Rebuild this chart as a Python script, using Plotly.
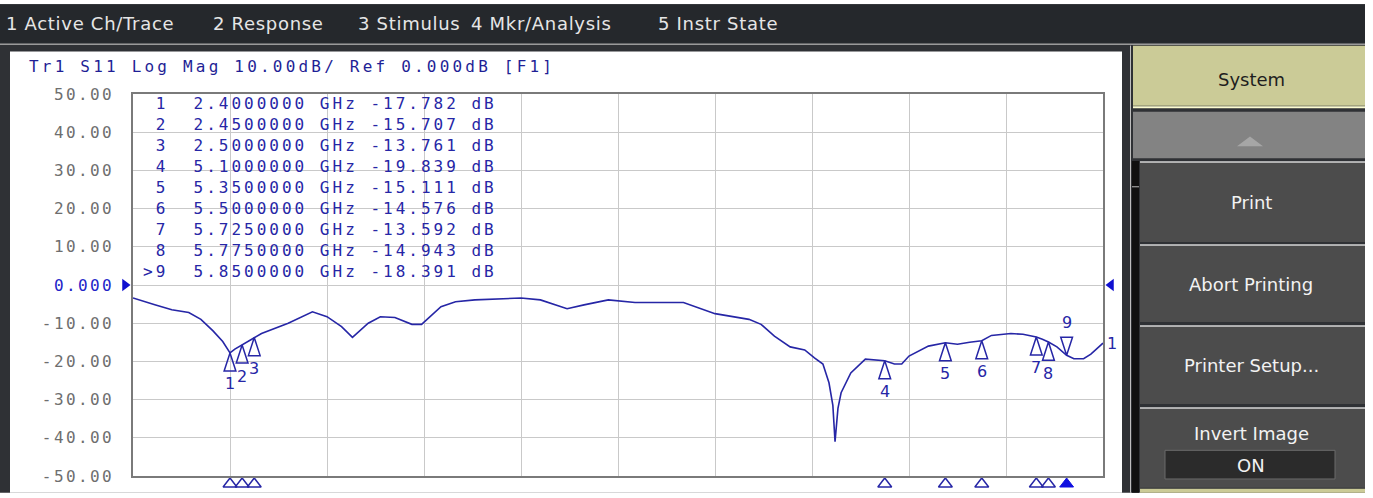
import plotly.graph_objects as go

# ---------------- data ----------------
trace_freq_ghz = [2.000, 2.050, 2.090, 2.160, 2.230, 2.280, 2.330, 2.370, 2.400, 2.420,
                  2.450, 2.500, 2.530, 2.640, 2.740, 2.800, 2.860, 2.905, 2.970, 3.020,
                  3.080, 3.150, 3.190, 3.270, 3.330, 3.410, 3.500, 3.600, 3.680, 3.790,
                  3.860, 3.960, 4.070, 4.270, 4.400, 4.540, 4.590, 4.645, 4.710, 4.770,
                  4.810, 4.845, 4.870, 4.886, 4.895, 4.907, 4.920, 4.960, 5.020, 5.100,
                  5.140, 5.170, 5.200, 5.280, 5.350, 5.400, 5.450, 5.500, 5.540, 5.620,
                  5.670, 5.725, 5.750, 5.775, 5.810, 5.850, 5.880, 5.920, 5.950, 5.980,
                  6.000]
trace_db = [-3.4, -4.3, -5.2, -6.5, -7.2, -9.0, -12.0, -14.8, -17.78, -16.8,
            -15.71, -13.76, -12.7, -10.0, -7.0, -8.3, -10.9, -13.7, -10.0, -8.3,
            -8.5, -10.3, -10.3, -5.7, -4.4, -3.9, -3.6, -3.4, -3.9, -6.2,
            -5.2, -3.9, -4.6, -4.6, -7.5, -9.0, -10.3, -13.4, -16.2, -17.0,
            -19.1, -20.7, -25.6, -31.5, -41.0, -32.3, -28.2, -23.0, -19.4, -19.84,
            -20.7, -20.7, -18.6, -16.0, -15.11, -15.5, -15.0, -14.58, -13.2, -12.7,
            -12.9, -13.59, -14.2, -14.94, -16.2, -18.39, -19.3, -19.3, -18.1, -16.5,
            -15.2]

marker_ids = ["1", "2", "3", "4", "5", "6", "7", "8", "9"]
marker_freq_ghz = [2.40, 2.45, 2.50, 5.10, 5.35, 5.50, 5.725, 5.775, 5.85]
marker_db = [-17.782, -15.707, -13.761, -19.839, -15.111, -14.576, -13.592, -14.943, -18.391]
active_marker = "9"

freq_start_ghz = 2.0
freq_stop_ghz = 6.0
freq_div_ghz = 0.4
y_tick_vals = [50, 40, 30, 20, 10, 0, -10, -20, -30, -40, -50]
y_tick_labels = ["50.00", "40.00", "30.00", "20.00", "10.00", "0.000",
                 "-10.00", "-20.00", "-30.00", "-40.00", "-50.00"]
ref_level_db = 0

title_text = "Tr1 S11 Log Mag 10.00dB/ Ref 0.000dB [F1]"
menu_labels = ["1 Active Ch/Trace", "2 Response", "3 Stimulus", "4 Mkr/Analysis", "5 Instr State"]
softkey_labels = ["System", "Print", "Abort Printing", "Printer Setup...", "Invert Image", "ON"]

# ---------------- layout constants ----------------
FIG_W, FIG_H = 1373, 498
L, R, T, B = 133, 1103, 94, 481
PW, PH = R - L, B - T

def PX(x):
    return (x - L) / PW

def PY(y):
    return (B - y) / PH

NAVY = "#2626a6"
TEXT_NAVY = "#1f1f96"
MONO = "DejaVu Sans Mono"
SANS = "DejaVu Sans"

def spaced(s, ls):
    s = s.replace(" ", "\u00a0")
    return f'<span style="letter-spacing:{ls}px">{s}</span>'

fig = go.Figure()

# trace
fig.add_trace(go.Scatter(
    x=trace_freq_ghz, y=trace_db, mode="lines",
    line=dict(color=NAVY, width=1.6), hoverinfo="skip", showlegend=False))

# markers on trace
norm_idx = [i for i, m in enumerate(marker_ids) if m != active_marker]
act_idx = [i for i, m in enumerate(marker_ids) if m == active_marker]
fig.add_trace(go.Scatter(
    x=[marker_freq_ghz[i] for i in norm_idx], y=[marker_db[i] for i in norm_idx],
    mode="markers", showlegend=False, hoverinfo="skip", cliponaxis=False,
    marker=dict(symbol="arrow-open", size=19, angle=0, color=NAVY, line=dict(color=NAVY, width=1.5))))
fig.add_trace(go.Scatter(
    x=[marker_freq_ghz[i] for i in act_idx], y=[marker_db[i] for i in act_idx],
    mode="markers", showlegend=False, hoverinfo="skip", cliponaxis=False,
    marker=dict(symbol="arrow-open", size=19, angle=180, color=NAVY, line=dict(color=NAVY, width=1.5))))

# bottom marker position indicators
fig.add_trace(go.Scatter(
    x=[marker_freq_ghz[i] for i in norm_idx], y=[y_tick_vals[-1]] * len(norm_idx),
    mode="markers", showlegend=False, hoverinfo="skip", cliponaxis=False,
    marker=dict(symbol="triangle-up-open", size=12, angle=0, standoff=8,
                color=NAVY, line=dict(color=NAVY, width=1.5))))
fig.add_trace(go.Scatter(
    x=[marker_freq_ghz[i] for i in act_idx], y=[y_tick_vals[-1]] * len(act_idx),
    mode="markers", showlegend=False, hoverinfo="skip", cliponaxis=False,
    marker=dict(symbol="triangle-up", size=12, angle=0, standoff=8,
                color="#1010e0", line=dict(color="#1010e0", width=1))))

# reference level indicators
fig.add_trace(go.Scatter(
    x=[freq_start_ghz], y=[ref_level_db], mode="markers", showlegend=False, hoverinfo="skip",
    cliponaxis=False,
    marker=dict(symbol="triangle-up", size=11, angle=90, standoff=8, color="#1010d0",
                line=dict(width=0))))
fig.add_trace(go.Scatter(
    x=[freq_stop_ghz], y=[ref_level_db], mode="markers", showlegend=False, hoverinfo="skip",
    cliponaxis=False,
    marker=dict(symbol="triangle-up", size=11, angle=-90, standoff=8, color="#1010d0",
                line=dict(width=0))))

annotations = []
# marker numbers
for i, m in enumerate(marker_ids):
    up = (m == active_marker)
    annotations.append(dict(
        x=marker_freq_ghz[i], y=marker_db[i], xref="x", yref="y", text=m, showarrow=False,
        yshift=33 if up else -31, font=dict(family=SANS, size=16, color=NAVY)))
# trace number at end
annotations.append(dict(
    x=trace_freq_ghz[-1], y=trace_db[-1], xref="x", yref="y", text="1", showarrow=False,
    xanchor="left", xshift=2, font=dict(family=SANS, size=16, color=NAVY)))

# marker table
for i, m in enumerate(marker_ids):
    lab = (">" + m) if m == active_marker else (" " + m)
    line = f"{lab}  {marker_freq_ghz[i]:.7f} GHz {marker_db[i]:.3f} dB"
    annotations.append(dict(
        x=PX(141), y=PY(103.5 + i * 21.3), xref="paper", yref="paper", xanchor="left",
        yanchor="middle", showarrow=False, text=spaced(line, 3.0),
        font=dict(family=MONO, size=16, color=NAVY)))

# title
annotations.append(dict(
    x=PX(27), y=PY(66), xref="paper", yref="paper", xanchor="left", yanchor="middle",
    showarrow=False, text=spaced(title_text, 3.2), font=dict(family=MONO, size=16, color=TEXT_NAVY)))

# menu bar
menu_x = [4, 211, 356, 469, 656]
for lab, mx in zip(menu_labels, menu_x):
    annotations.append(dict(
        x=PX(mx), y=PY(23), xref="paper", yref="paper", xanchor="left", yanchor="middle",
        showarrow=False, text=spaced(lab, 0.7), font=dict(family=SANS, size=18, color="#e6e6e6")))

# softkeys
soft_y = [79, 204, 287, 369, 438, 470]
soft_col = ["#1e1e1e", "#f2f2f2", "#f2f2f2", "#f2f2f2", "#f2f2f2", "#f2f2f2"]
for lab, sy, sc in zip(softkey_labels, soft_y, soft_col):
    annotations.append(dict(
        x=PX(1251), y=PY(sy), xref="paper", yref="paper", xanchor="center", yanchor="middle",
        showarrow=False, text=lab, font=dict(family=SANS, size=18, color=sc)))

shapes = []
def rect(x0, y0, x1, y1, fill, line_color=None, lw=0, layer="below"):
    shapes.append(dict(type="rect", xref="paper", yref="paper",
                       x0=PX(x0), x1=PX(x1), y0=PY(y1), y1=PY(y0),
                       fillcolor=fill, line=dict(color=line_color or fill, width=lw), layer=layer))

def hline(x0, x1, y, color, w=1):
    shapes.append(dict(type="line", xref="paper", yref="paper", x0=PX(x0), x1=PX(x1),
                       y0=PY(y), y1=PY(y), line=dict(color=color, width=w), layer="below"))

def vline(x, y0, y1, color, w=1):
    shapes.append(dict(type="line", xref="paper", yref="paper", x0=PX(x), x1=PX(x),
                       y0=PY(y0), y1=PY(y1), line=dict(color=color, width=w), layer="below"))

rect(0, 3, 1365, 498, "#2f3135")
rect(0, 3, 1365, 42, "#25282c")
hline(0, 1365, 43.5, "#9a9a9a", 1.5)
rect(10, 51, 1122, 498, "#ffffff")
vline(1130.5, 45, 498, "#bdbdbd", 1)
# System
rect(1133, 45, 1365, 106, "#cbcb97")
hline(1133, 1365, 107.5, "#fbfbd0", 2)
# gray up
rect(1133, 112, 1365, 159, "#838383")
shapes.append(dict(type="path", xref="paper", yref="paper",
                   path=f"M {PX(1237)} {PY(147)} L {PX(1263)} {PY(147)} L {PX(1250)} {PY(137)} Z",
                   fillcolor="#a6a6a6", line=dict(width=0), layer="below"))
# scroll column
rect(1132, 162, 1139, 498, "#101010")
hline(1132, 1139, 188, "#bdbdbd", 1)
# dark buttons
for y0, y1 in [(163, 244), (247, 325), (329, 408), (412, 493)]:
    rect(1140, y0, 1365, y1, "#4c4c4c")
    hline(1140, 1365, y0, "#d6d6d6", 1.5)
rect(1165, 455, 1335, 484, "#2b2b2b", "#6a6a6a", 1)
rect(1140, 494, 1365, 498, "#cbcb97")

fig.update_layout(
    width=FIG_W, height=FIG_H,
    margin=dict(l=L, r=FIG_W - R, t=T, b=FIG_H - B, pad=0),
    paper_bgcolor="#ffffff", plot_bgcolor="#ffffff",
    showlegend=False, shapes=shapes, annotations=annotations,
    xaxis=dict(range=[freq_start_ghz, freq_stop_ghz], tick0=freq_start_ghz, dtick=freq_div_ghz,
               showticklabels=False, ticks="", showgrid=True, gridcolor="#c9c9c9", gridwidth=1,
               zeroline=False, showline=True, mirror=True, linecolor="#7a7a7a", linewidth=1.5,
               fixedrange=True),
    yaxis=dict(range=[y_tick_vals[-1], y_tick_vals[0]], tickmode="array", tickvals=y_tick_vals,
               ticktext=[(f'<span style="color:#2323c8;letter-spacing:2.4px">{t}</span>' if v == ref_level_db
                          else f'<span style="letter-spacing:2.4px">{t}</span>')
                         for v, t in zip(y_tick_vals, y_tick_labels)],
               tickfont=dict(family=MONO, size=16, color="#6e6e6e"), ticks="",
               ticklabelstandoff=14,
               showgrid=True, gridcolor="#c9c9c9", gridwidth=1, zeroline=False,
               showline=True, mirror=True, linecolor="#7a7a7a", linewidth=1.5, fixedrange=True),
)

fig.write_html("out.html", config={"displayModeBar": False},
               post_script="document.body.style.margin='0';document.body.style.overflow='hidden';")
